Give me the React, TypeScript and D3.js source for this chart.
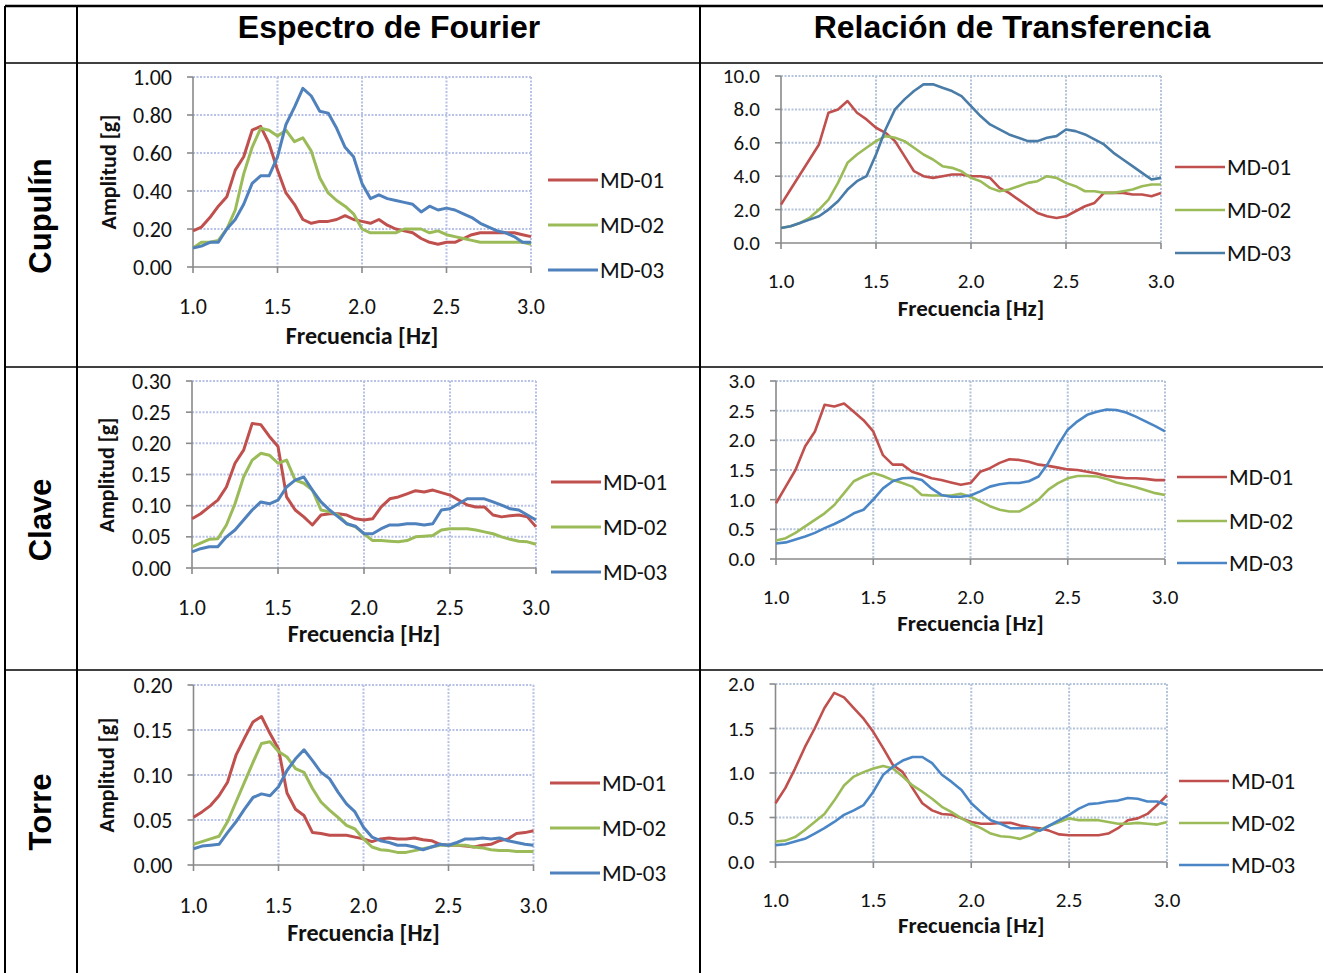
import React from 'react'
import * as d3 from 'd3'

// frequency samples (Hz) shared by every curve
const FREQ = [
  1.00, 1.05, 1.10, 1.15, 1.20, 1.25, 1.30, 1.35, 1.40, 1.45, 1.50,
  1.55, 1.60, 1.65, 1.70, 1.75, 1.80, 1.85, 1.90, 1.95, 2.00,
  2.05, 2.10, 2.15, 2.20, 2.25, 2.30, 2.35, 2.40, 2.45, 2.50,
  2.55, 2.60, 2.65, 2.70, 2.75, 2.80, 2.85, 2.90, 2.95, 3.00
]
const X_TICKS = [1.0, 1.5, 2.0, 2.5, 3.0]
const SERIES_NAMES = ['MD-01', 'MD-02', 'MD-03']
const COL_TITLES = ['Espectro de Fourier', 'Relación de Transferencia']
const ROW_TITLES = ['Cupulín', 'Clave', 'Torre']

// Cupulín
const CUP_F_MD01 = [0.19,0.21,0.26,0.32,0.37,0.51,0.58,0.72,0.74,0.65,0.51,0.39,0.33,0.25,0.23,0.24,0.24,0.25,0.27,0.25,0.24,0.23,0.25,0.22,0.20,0.19,0.18,0.15,0.13,0.12,0.13,0.13,0.15,0.17,0.18,0.18,0.18,0.18,0.18,0.17,0.16]
const CUP_F_MD02 = [0.10,0.13,0.13,0.14,0.20,0.30,0.49,0.63,0.73,0.72,0.69,0.72,0.66,0.68,0.61,0.47,0.39,0.35,0.32,0.28,0.20,0.18,0.18,0.18,0.18,0.20,0.20,0.20,0.18,0.19,0.17,0.16,0.15,0.14,0.13,0.13,0.13,0.13,0.13,0.13,0.12]
const CUP_F_MD03 = [0.10,0.11,0.13,0.13,0.20,0.25,0.33,0.44,0.48,0.48,0.58,0.75,0.84,0.94,0.90,0.82,0.81,0.73,0.63,0.58,0.44,0.36,0.38,0.36,0.35,0.34,0.33,0.29,0.32,0.30,0.31,0.30,0.28,0.26,0.23,0.21,0.19,0.18,0.16,0.13,0.13]
const CUP_T_MD01 = [2.3,3.2,4.1,5.0,5.9,7.8,8.0,8.5,7.8,7.4,6.9,6.6,6.1,5.2,4.3,4.0,3.9,4.0,4.1,4.1,4.0,4.0,3.9,3.3,3.0,2.6,2.2,1.8,1.6,1.5,1.6,1.9,2.2,2.4,3.0,3.0,3.0,2.9,2.9,2.8,3.0]
const CUP_T_MD02 = [0.9,1.0,1.2,1.5,2.0,2.6,3.6,4.8,5.3,5.7,6.1,6.4,6.3,6.1,5.7,5.3,5.0,4.6,4.5,4.3,3.9,3.7,3.3,3.1,3.2,3.4,3.6,3.7,4.0,3.9,3.6,3.4,3.1,3.1,3.0,3.0,3.1,3.2,3.4,3.5,3.5]
const CUP_T_MD03 = [0.9,1.0,1.2,1.4,1.6,2.0,2.5,3.2,3.7,4.0,5.3,6.8,8.0,8.6,9.1,9.5,9.5,9.3,9.1,8.8,8.2,7.6,7.1,6.8,6.5,6.3,6.1,6.1,6.3,6.4,6.8,6.7,6.5,6.2,5.9,5.4,5.0,4.6,4.2,3.8,3.9]

// Clave
const CLA_F_MD01 = [0.079,0.087,0.098,0.109,0.130,0.168,0.189,0.232,0.230,0.211,0.195,0.114,0.093,0.082,0.069,0.085,0.087,0.087,0.085,0.079,0.077,0.079,0.098,0.111,0.114,0.119,0.124,0.122,0.125,0.121,0.117,0.109,0.101,0.098,0.098,0.085,0.082,0.084,0.085,0.082,0.066]
const CLA_F_MD02 = [0.034,0.040,0.046,0.047,0.069,0.103,0.146,0.173,0.184,0.181,0.168,0.173,0.141,0.136,0.125,0.093,0.090,0.085,0.071,0.066,0.055,0.044,0.044,0.043,0.042,0.044,0.050,0.051,0.052,0.061,0.063,0.063,0.063,0.061,0.058,0.055,0.050,0.046,0.043,0.042,0.038]
const CLA_F_MD03 = [0.026,0.031,0.034,0.034,0.050,0.061,0.077,0.093,0.106,0.103,0.109,0.130,0.141,0.146,0.125,0.106,0.093,0.082,0.071,0.067,0.055,0.055,0.063,0.069,0.069,0.071,0.071,0.069,0.071,0.093,0.095,0.103,0.111,0.111,0.111,0.106,0.101,0.095,0.093,0.085,0.077]
const CLA_T_MD01 = [0.94,1.22,1.50,1.90,2.15,2.60,2.57,2.62,2.48,2.34,2.15,1.75,1.59,1.59,1.47,1.42,1.36,1.33,1.29,1.25,1.28,1.47,1.53,1.62,1.68,1.67,1.64,1.59,1.57,1.54,1.51,1.50,1.47,1.44,1.40,1.38,1.36,1.36,1.35,1.33,1.33]
const CLA_T_MD02 = [0.31,0.35,0.44,0.55,0.66,0.77,0.91,1.11,1.31,1.39,1.45,1.40,1.33,1.28,1.22,1.08,1.07,1.07,1.07,1.10,1.05,0.97,0.89,0.83,0.80,0.80,0.89,1.00,1.17,1.28,1.36,1.40,1.40,1.39,1.35,1.29,1.25,1.21,1.16,1.11,1.08]
const CLA_T_MD03 = [0.26,0.28,0.33,0.38,0.44,0.52,0.59,0.67,0.77,0.83,1.00,1.19,1.31,1.36,1.37,1.33,1.19,1.08,1.05,1.05,1.07,1.14,1.22,1.26,1.28,1.28,1.31,1.39,1.62,1.92,2.18,2.32,2.43,2.48,2.52,2.51,2.47,2.40,2.32,2.24,2.15]

// Torre
const TOR_F_MD01 = [0.053,0.059,0.066,0.077,0.092,0.122,0.141,0.159,0.165,0.146,0.129,0.080,0.062,0.055,0.036,0.035,0.033,0.033,0.033,0.031,0.029,0.026,0.029,0.030,0.029,0.029,0.030,0.028,0.027,0.023,0.022,0.022,0.021,0.020,0.022,0.023,0.027,0.029,0.035,0.036,0.038]
const TOR_F_MD02 = [0.023,0.026,0.029,0.032,0.048,0.070,0.092,0.114,0.135,0.137,0.126,0.120,0.107,0.103,0.085,0.070,0.061,0.053,0.044,0.040,0.029,0.020,0.017,0.016,0.014,0.014,0.016,0.018,0.020,0.022,0.022,0.022,0.022,0.020,0.019,0.017,0.016,0.016,0.015,0.015,0.015]
const TOR_F_MD03 = [0.018,0.021,0.022,0.023,0.036,0.048,0.062,0.075,0.079,0.077,0.087,0.105,0.118,0.128,0.116,0.103,0.096,0.081,0.068,0.059,0.042,0.031,0.027,0.025,0.022,0.022,0.020,0.017,0.020,0.023,0.022,0.025,0.029,0.029,0.030,0.029,0.030,0.027,0.025,0.023,0.022]
const TOR_T_MD01 = [0.66,0.83,1.05,1.29,1.50,1.73,1.90,1.85,1.73,1.61,1.46,1.28,1.09,1.01,0.83,0.66,0.58,0.54,0.53,0.49,0.45,0.43,0.43,0.44,0.44,0.41,0.39,0.38,0.35,0.31,0.30,0.30,0.30,0.30,0.32,0.38,0.47,0.49,0.54,0.64,0.75]
const TOR_T_MD02 = [0.23,0.24,0.28,0.36,0.45,0.54,0.69,0.86,0.96,1.01,1.05,1.08,1.05,0.96,0.86,0.79,0.71,0.62,0.56,0.49,0.43,0.38,0.32,0.29,0.28,0.26,0.30,0.36,0.41,0.45,0.49,0.47,0.47,0.47,0.45,0.43,0.43,0.44,0.43,0.42,0.45]
const TOR_T_MD03 = [0.19,0.20,0.23,0.26,0.32,0.38,0.45,0.53,0.58,0.64,0.79,0.98,1.07,1.14,1.18,1.18,1.11,0.98,0.90,0.81,0.66,0.56,0.47,0.43,0.38,0.38,0.38,0.35,0.41,0.47,0.53,0.60,0.65,0.66,0.68,0.69,0.72,0.71,0.68,0.68,0.64]

const Y_TICKS_CUP_F = [0, 0.2, 0.4, 0.6, 0.8, 1.0]
const Y_TICKS_CUP_T = [0, 2, 4, 6, 8, 10]
const Y_TICKS_CLA_F = [0, 0.05, 0.10, 0.15, 0.20, 0.25, 0.30]
const Y_TICKS_CLA_T = [0, 0.5, 1.0, 1.5, 2.0, 2.5, 3.0]
const Y_TICKS_TOR_F = [0, 0.05, 0.10, 0.15, 0.20]
const Y_TICKS_TOR_T = [0, 0.5, 1.0, 1.5, 2.0]

const RED = '#c0504d'
const GREEN = '#9bbb59'
const BLUE = '#4f81bd'

const TICK_FONT = 'Carlito, Lato, "Open Sans", sans-serif'
const HEAD_FONT = '"Liberation Sans", Arial, sans-serif'

// plot boxes (page pixels): [left, right, top, bottom]
const charts = [
  { key: 'cf', box: [193, 531, 77, 267], yTicks: Y_TICKS_CUP_F, fmt: '.2f', series: [CUP_F_MD01, CUP_F_MD02, CUP_F_MD03], colors: [RED, GREEN, BLUE], legX: 548, legY: [180, 225, 270], tickY: 306, titleY: 335, yTitle: [108, 172], lw: 3, grid: '#b8c2e8', fs: 22, tfs: 24 },
  { key: 'ct', box: [781, 1161, 76, 243], yTicks: Y_TICKS_CUP_T, fmt: '.1f', series: [CUP_T_MD01, CUP_T_MD02, CUP_T_MD03], colors: [RED, GREEN, '#4a7ca8'], legX: 1175, legY: [167, 210, 253], tickY: 281, titleY: 308, yTitle: null, lw: 2.6, grid: '#b4c4dc', fs: 21, tfs: 23 },
  { key: 'lf', box: [192, 536, 381, 568], yTicks: Y_TICKS_CLA_F, fmt: '.2f', series: [CLA_F_MD01, CLA_F_MD02, CLA_F_MD03], colors: [RED, GREEN, BLUE], legX: 551, legY: [482, 527, 572], tickY: 607, titleY: 633, yTitle: [106, 475], lw: 3, grid: '#b8c2e8', fs: 22, tfs: 24 },
  { key: 'lt', box: [776, 1165, 381, 559], yTicks: Y_TICKS_CLA_T, fmt: '.1f', series: [CLA_T_MD01, CLA_T_MD02, CLA_T_MD03], colors: [RED, GREEN, '#4a86c6'], legX: 1177, legY: [477, 521, 563], tickY: 597, titleY: 623, yTitle: null, lw: 2.6, grid: '#b4c4dc', fs: 21, tfs: 23 },
  { key: 'tf', box: [193.5, 533.5, 685, 865], yTicks: Y_TICKS_TOR_F, fmt: '.2f', series: [TOR_F_MD01, TOR_F_MD02, TOR_F_MD03], colors: [RED, GREEN, BLUE], legX: 550, legY: [783, 828, 873], tickY: 905, titleY: 932, yTitle: [106, 775], lw: 3, grid: '#b8c2e8', fs: 22, tfs: 24 },
  { key: 'tt', box: [775.5, 1167, 684, 862], yTicks: Y_TICKS_TOR_T, fmt: '.1f', series: [TOR_T_MD01, TOR_T_MD02, TOR_T_MD03], colors: [RED, GREEN, '#4a86c6'], legX: 1179, legY: [781, 823, 865], tickY: 900, titleY: 925, yTitle: null, lw: 2.6, grid: '#b4c4dc', fs: 21, tfs: 23 },
]

function Chart({ c }) {
  const [left, right, top, bottom] = c.box
  const x = d3.scaleLinear().domain([1, 3]).range([left, right])
  const yMax = c.yTicks[c.yTicks.length - 1]
  const y = d3.scaleLinear().domain([0, yMax]).range([bottom, top])
  const line = d3.line().x((d, i) => x(FREQ[i])).y(d => y(d))
  const f = d3.format(c.fmt)
  const axisColor = '#8a8a8a'

  return (
    <g>
      {/* grid */}
      {c.yTicks.slice(1).map(t => (
        <line key={'h' + t} x1={left} x2={right} y1={y(t)} y2={y(t)} stroke={c.grid} strokeWidth={2} strokeDasharray="2,1.5" />
      ))}
      {X_TICKS.slice(1).map(t => (
        <line key={'v' + t} x1={x(t)} x2={x(t)} y1={top} y2={bottom} stroke={c.grid} strokeWidth={2} strokeDasharray="2,1.5" />
      ))}
      {/* axes */}
      <line x1={left} x2={left} y1={top} y2={bottom} stroke={axisColor} strokeWidth={1.6} />
      <line x1={left} x2={right} y1={bottom} y2={bottom} stroke={axisColor} strokeWidth={1.6} />
      {c.yTicks.map(t => (
        <line key={'yt' + t} x1={left - 6} x2={left} y1={y(t)} y2={y(t)} stroke={axisColor} strokeWidth={1.6} />
      ))}
      {X_TICKS.map(t => (
        <line key={'xt' + t} x1={x(t)} x2={x(t)} y1={bottom} y2={bottom + 6} stroke={axisColor} strokeWidth={1.6} />
      ))}
      {/* curves */}
      {c.series.map((s, i) => (
        <path key={'s' + i} d={line(s)} fill="none" stroke={c.colors[i]} strokeWidth={c.lw} strokeLinejoin="round" />
      ))}
      {/* tick labels */}
      {c.yTicks.map(t => (
        <text key={'yl' + t} x={left - 21} y={y(t)} textAnchor="end" dominantBaseline="central" fontFamily={TICK_FONT} fontSize={c.fs} fill="#111">{f(t)}</text>
      ))}
      {X_TICKS.map(t => (
        <text key={'xl' + t} x={x(t)} y={c.tickY} textAnchor="middle" dominantBaseline="central" fontFamily={TICK_FONT} fontSize={c.fs} fill="#111">{d3.format('.1f')(t)}</text>
      ))}
      <text x={(left + right) / 2} y={c.titleY} textAnchor="middle" dominantBaseline="central" fontFamily={TICK_FONT} fontWeight="bold" fontSize={c.tfs} fill="#111">Frecuencia [Hz]</text>
      {c.yTitle && (
        <text transform={`translate(${c.yTitle[0]},${c.yTitle[1]}) rotate(-90)`} textAnchor="middle" dominantBaseline="central" fontFamily={TICK_FONT} fontWeight="bold" fontSize={22} fill="#111">Amplitud [g]</text>
      )}
      {/* legend */}
      {SERIES_NAMES.map((n, i) => (
        <g key={n}>
          <line x1={c.legX} x2={c.legX + 50} y1={c.legY[i]} y2={c.legY[i]} stroke={c.colors[i]} strokeWidth={c.lw} />
          <text x={c.legX + 52} y={c.legY[i]} dominantBaseline="central" fontFamily={TICK_FONT} fontSize={23} fill="#111">{n}</text>
        </g>
      ))}
    </g>
  )
}

export default function App() {
  const W = 1323, H = 973
  const colX = [5, 77, 700]
  const rowY = [6, 63, 367, 670]
  return (
    <svg width={W} height={H} style={{ position: 'absolute', left: 0, top: 0, background: '#fff' }}>
      <rect x={0} y={0} width={W} height={H} fill="#fff" />
      {/* table lines */}
      {rowY.map((yy, i) => (
        <line key={'r' + i} x1={colX[0]} x2={W} y1={yy} y2={yy} stroke="#000" strokeWidth={i === 0 ? 2.5 : 1.6} />
      ))}
      {colX.map((xx, i) => (
        <line key={'c' + i} x1={xx} x2={xx} y1={rowY[0]} y2={H} stroke="#000" strokeWidth={2} />
      ))}
      {/* headers */}
      <text x={389} y={27} textAnchor="middle" dominantBaseline="central" fontFamily={HEAD_FONT} fontWeight="bold" fontSize={32}>{COL_TITLES[0]}</text>
      <text x={1012} y={27} textAnchor="middle" dominantBaseline="central" fontFamily={HEAD_FONT} fontWeight="bold" fontSize={32}>{COL_TITLES[1]}</text>
      {[216, 520, 812].map((cy, i) => (
        <text key={ROW_TITLES[i]} transform={`translate(40,${cy}) rotate(-90)`} textAnchor="middle" dominantBaseline="central" fontFamily={HEAD_FONT} fontWeight="bold" fontSize={31}>{ROW_TITLES[i]}</text>
      ))}
      {charts.map(c => <Chart key={c.key} c={c} />)}
    </svg>
  )
}
